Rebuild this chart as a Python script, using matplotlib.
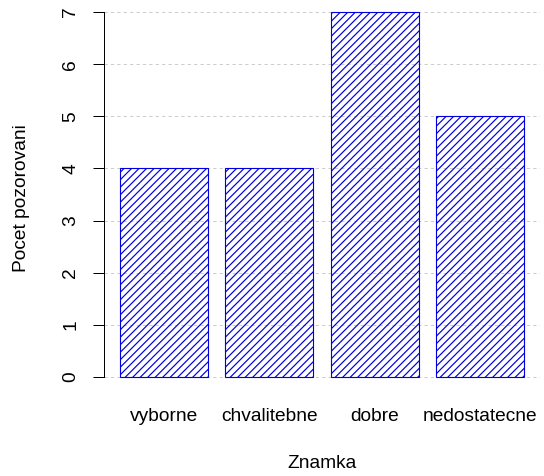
import numpy as np
import matplotlib
matplotlib.use("Agg")
import matplotlib.pyplot as plt

# pocty pozorovani podle znamky
znamky = ["vyborne", "chvalitebne", "dobre", "nedostatecne"]
pocty = [4, 4, 7, 5]
y_ticks = [0, 1, 2, 3, 4, 5, 6, 7]

DPI = 90
FS = 15.3
plt.rcParams["font.family"] = ["Liberation Sans", "DejaVu Sans"]
plt.rcParams["hatch.linewidth"] = 0.95
plt.rcParams["hatch.color"] = "blue"

fig = plt.figure(figsize=(544 / DPI, 476 / DPI), dpi=DPI)
ax = fig.add_axes([0.1908, 0.1773, 0.8022, 0.8282])

# barplot rozlozeni: sirka 1, mezera 0.2
pos = 0.2 + np.arange(len(pocty)) * 1.2 + 0.5
ax.set_xlim(0.016, 4.984)
ax.set_ylim(-0.28, 7.28)

for v in y_ticks:
    ax.axhline(v, color="#cccccc", lw=0.8, ls=(0, (3.2, 3.2)), zorder=0)

ax.bar(pos, pocty, width=1.0, fill=False, edgecolor="#0000dd", hatch="////",
       linewidth=0.9, zorder=2)

for s in ["top", "right", "bottom"]:
    ax.spines[s].set_visible(False)
ax.spines["left"].set_bounds(0, 7)
ax.spines["left"].set_linewidth(0.8)

ax.set_yticks(y_ticks)
ax.set_yticklabels([str(t) for t in y_ticks], rotation=90, va="center")
ax.tick_params(axis="y", length=8.8, width=0.8, pad=11, labelsize=FS)

ax.set_xticks(pos)
ax.set_xticklabels(znamky)
ax.tick_params(axis="x", length=0, pad=13.5, labelsize=FS)

fig.text(322 / 544, 1 - 463 / 476, "Znamka", ha="center", va="center",
         fontsize=FS)
fig.text(22 / 544, 1 - 198 / 476, "Pocet pozorovani", ha="center",
         va="center", rotation=90, fontsize=FS)

fig.savefig("out.png", dpi=DPI)
